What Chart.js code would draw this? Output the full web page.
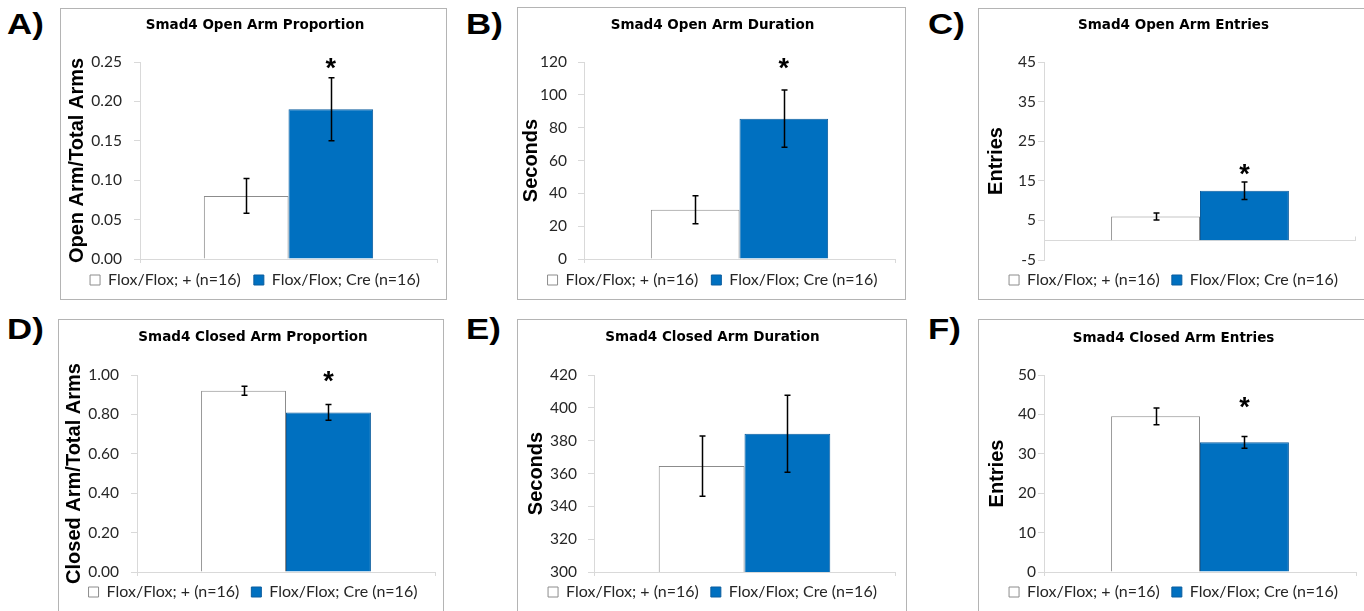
<!DOCTYPE html>
<html><head><meta charset="utf-8">
<script src="https://cdn.jsdelivr.net/npm/chart.js@4"></script>
<style>
html,body{margin:0;padding:0;background:#fff;width:1364px;height:611px;overflow:hidden;position:relative}
.frame{position:absolute;border:1px solid #b4b4b4}
.frame canvas{display:block}
.lbl{position:absolute;font-family:"Liberation Sans";font-weight:bold;font-size:29px;line-height:29px;color:#000;white-space:nowrap;transform:scaleX(1.2);transform-origin:0 0}
</style></head><body>
<script>
// ---------- data ----------
const categories = [''];
const seriesNames = ['Flox/Flox; + (n=16)', 'Flox/Flox; Cre (n=16)'];
const panelLetters = ['A)', 'B)', 'C)', 'D)', 'E)', 'F)'];
const chartTitles = ['Smad4 Open Arm Proportion', 'Smad4 Open Arm Duration', 'Smad4 Open Arm Entries',
                     'Smad4 Closed Arm Proportion', 'Smad4 Closed Arm Duration', 'Smad4 Closed Arm Entries'];
const yAxisTitles = ['Open Arm/Total Arms', 'Seconds', 'Entries', 'Closed Arm/Total Arms', 'Seconds', 'Entries'];
const controlMeans  = [0.08, 30.0, 6.0, 0.92, 364.5, 39.5];
const controlErrors = [0.022, 8.5, 0.9, 0.023, 18.3, 2.1];
const creMeans      = [0.19, 85.5, 12.5, 0.81, 384.2, 32.9];
const creErrors     = [0.04, 17.5, 2.2, 0.04, 23.5, 1.5];
const significanceMarkY = [0.25, 120, 18.2, 1.0, null, 43.4];
const yMin   = [0, 0, -5, 0, 300, 0];
const yMax   = [0.25, 120, 45, 1.0, 420, 50];
const yStep  = [0.05, 20, 10, 0.2, 20, 10];
const yDecimals = [2, 0, 0, 2, 0, 0];

// ---------- layout (canvas-local pixel targets) ----------
const layoutBoxes = [
  {x:61,  y:9,   w:385, h:290, plotL:79, plotR:376, plotT:53, plotB:250, titleC:16, legendC:271, yTitleX:16, tickPad:12, labelX:7,   labelY:10},
  {x:518, y:8,   w:387, h:291, plotL:66, plotR:377, plotT:54, plotB:251, titleC:17, legendC:272, yTitleX:13, tickPad:11, labelX:466, labelY:10},
  {x:979, y:9,   w:386, h:290, plotL:65, plotR:377, plotT:53, plotB:251, titleC:16, legendC:271, yTitleX:17, tickPad:2,  labelX:928, labelY:10},
  {x:59,  y:320, w:384, h:292, plotL:78, plotR:376, plotT:55, plotB:252, titleC:17, legendC:272, yTitleX:15, tickPad:12, labelX:7,   labelY:315},
  {x:518, y:320, w:388, h:292, plotL:76, plotR:377, plotT:55, plotB:252, titleC:17, legendC:272, yTitleX:18, tickPad:11, labelX:466, labelY:315},
  {x:979, y:320, w:386, h:292, plotL:65, plotR:377, plotT:55, plotB:252, titleC:18, legendC:272, yTitleX:18, tickPad:2,  labelX:928, labelY:315}
];

Chart.defaults.font.family = 'Lato';
Chart.defaults.color = '#262626';

const errorBarPlugin = {
  id: 'errorBars',
  afterDatasetsDraw(chart, args, opts) {
    const ctx = chart.ctx, ys = chart.scales.y;
    ctx.save();
    ctx.strokeStyle = '#000'; ctx.lineWidth = 1.5;
    chart.data.datasets.forEach((ds, di) => {
      const meta = chart.getDatasetMeta(di);
      meta.data.forEach((bar, k) => {
        const v = ds.data[k], e = opts.errors[di][k];
        const x = Math.round(bar.x) + 0.5;
        const y1 = ys.getPixelForValue(v + e), y2 = ys.getPixelForValue(v - e);
        ctx.beginPath();
        ctx.moveTo(x, y1); ctx.lineTo(x, y2);
        ctx.moveTo(x - 3, y1); ctx.lineTo(x + 3, y1);
        ctx.moveTo(x - 3, y2); ctx.lineTo(x + 3, y2);
        ctx.stroke();
      });
    });
    ctx.restore();
  }
};
const sigPlugin = {
  id: 'sigMark',
  afterDatasetsDraw(chart, args, opts) {
    if (opts.value === null || opts.value === undefined) return;
    const ctx = chart.ctx;
    const bar = chart.getDatasetMeta(1).data[0];
    const y = chart.scales.y.getPixelForValue(opts.value);
    ctx.save();
    ctx.fillStyle = '#000';
    ctx.font = 'bold 27px "Liberation Sans"';
    ctx.textAlign = 'center';
    ctx.textBaseline = 'alphabetic';
    ctx.fillText('*', bar.x, y + 15);
    ctx.restore();
  }
};
const zeroLinePlugin = {
  id: 'zeroLine',
  beforeDatasetsDraw(chart, args, opts) {
    if (!opts.draw) return;
    const ctx = chart.ctx, a = chart.chartArea;
    const y = Math.round(chart.scales.y.getPixelForValue(0)) + 0.5;
    ctx.save();
    ctx.strokeStyle = '#d9d9d9'; ctx.lineWidth = 1;
    ctx.beginPath(); ctx.moveTo(a.left, y); ctx.lineTo(a.right, y);
    ctx.moveTo(a.right - 0.5, y); ctx.lineTo(a.right - 0.5, y - 4);
    ctx.stroke();
    ctx.restore();
  }
};

function makeChart(i) {
  const b = layoutBoxes[i];
  const frame = document.createElement('div');
  frame.className = 'frame';
  frame.style.left = (b.x - 1) + 'px';
  frame.style.top = (b.y - 1) + 'px';
  const cv = document.createElement('canvas');
  cv.width = b.w; cv.height = b.h;
  cv.style.width = b.w + 'px'; cv.style.height = b.h + 'px';
  frame.appendChild(cv);
  document.body.appendChild(frame);

  const lab = document.createElement('div');
  lab.className = 'lbl';
  lab.textContent = panelLetters[i];
  lab.style.left = b.labelX + 'px';
  lab.style.top = b.labelY + 'px';
  document.body.appendChild(lab);

  const L = 12;
  const titleSize = 13.5, titleLH = titleSize * 1.2;
  const yTitleSize = 20, yTitleLH = yTitleSize * 1.2;
  const legendSize = 16;
  const legendPad = b.legendC - b.plotB - legendSize / 2;
  const legendH = legendSize + legendPad + 10;
  const padBottom = b.h - b.plotB - legendH;
  const isC = (i === 2);

  new Chart(cv, {
    type: 'bar',
    data: {
      labels: categories,
      datasets: [
        {label: seriesNames[0], data: [controlMeans[i]], backgroundColor: '#ffffff', borderColor: '#8c8c8c', borderWidth: 1},
        {label: seriesNames[1], data: [creMeans[i]], backgroundColor: '#0070c0', borderColor: '#0b5d9e', borderWidth: 1}
      ]
    },
    options: {
      responsive: false,
      animation: false,
      devicePixelRatio: 1,
      datasets: {bar: {categoryPercentage: 0.57, barPercentage: 1.0}},
      layout: {padding: {left: L, right: b.w - b.plotR, top: 0, bottom: padBottom}},
      scales: {
        x: {
          offset: true,
          grid: {display: !isC, drawOnChartArea: false, drawTicks: true, tickLength: 4, color: '#d9d9d9', offset: true},
          border: {display: !isC, color: '#d9d9d9'},
          ticks: {display: false},
          afterFit: s => { s.height = 0; }
        },
        y: {
          min: yMin[i], max: yMax[i],
          ticks: {stepSize: yStep[i], padding: b.tickPad, color: '#262626', font: {size: 15.5},
                  callback: v => Number(v).toFixed(yDecimals[i])},
          grid: {drawOnChartArea: false, drawTicks: true, tickLength: 6, color: '#d9d9d9'},
          border: {color: '#d9d9d9'},
          title: {display: true, text: yAxisTitles[i], color: '#000',
                  font: {family: 'Liberation Sans', weight: 'bold', size: yTitleSize},
                  padding: {top: b.yTitleX - L - yTitleLH / 2, bottom: 0}},
          afterFit: s => { s.width = b.plotL - L; }
        }
      },
      plugins: {
        title: {display: true, text: chartTitles[i], color: '#000',
                font: {family: 'DejaVu Sans', weight: 'bold', size: titleSize},
                padding: {top: b.titleC - titleLH / 2, bottom: b.plotT - b.titleC - titleLH / 2}},
        legend: {position: 'bottom',
                 labels: {boxWidth: 10, boxHeight: 10, padding: legendPad, color: '#262626', font: {size: legendSize}}},
        tooltip: {enabled: false},
        errorBars: {errors: [[controlErrors[i]], [creErrors[i]]]},
        sigMark: {value: significanceMarkY[i]},
        zeroLine: {draw: isC}
      }
    },
    plugins: [zeroLinePlugin, errorBarPlugin, sigPlugin]
  });
}
for (let i = 0; i < 6; i++) makeChart(i);
</script>
</body></html>
